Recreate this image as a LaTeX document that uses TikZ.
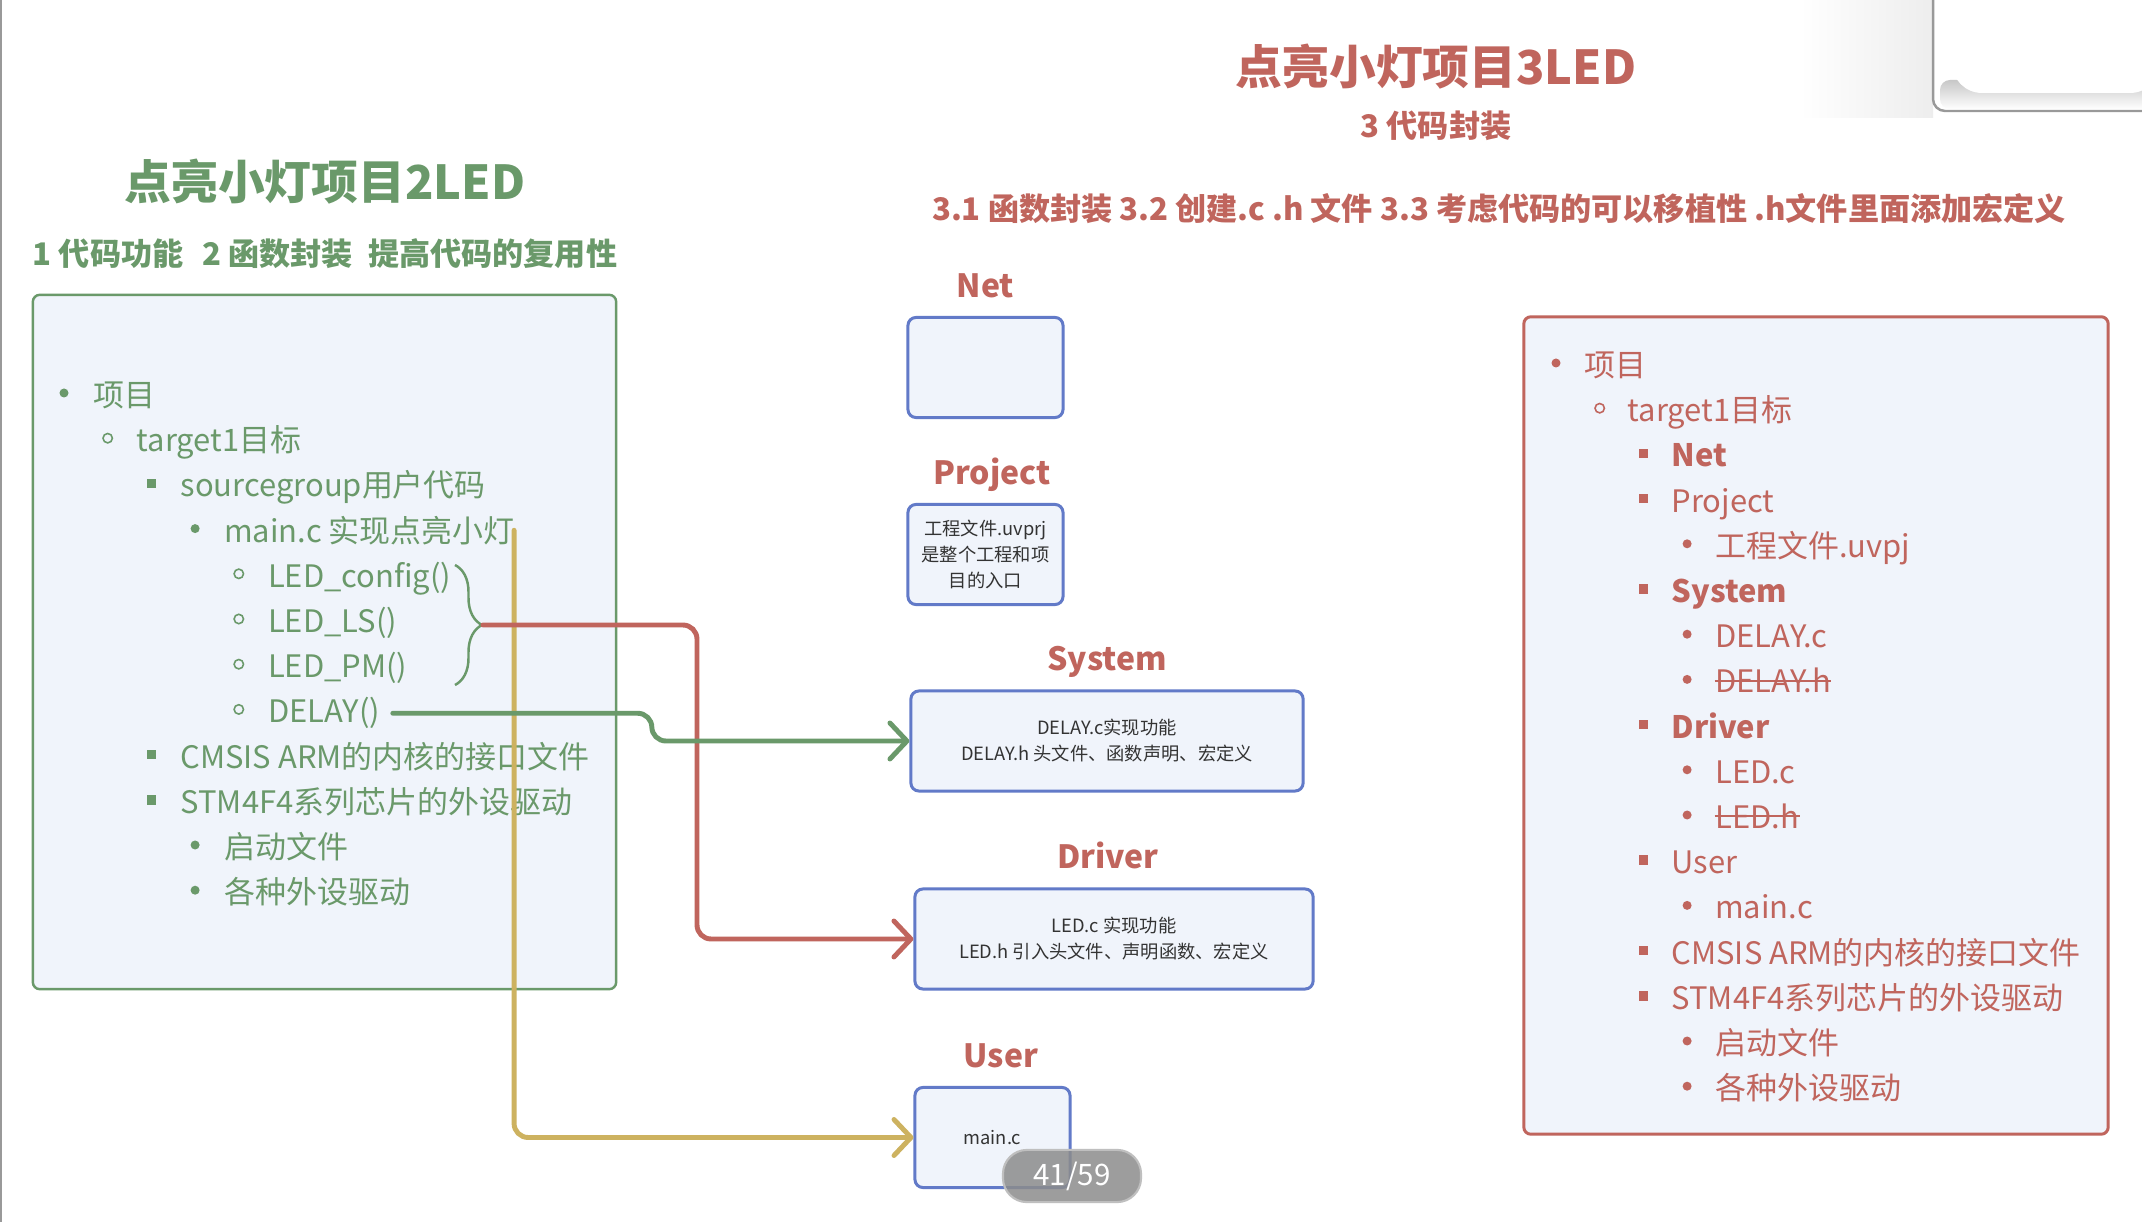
\documentclass[tikz,border=0pt]{standalone}
\usepackage{fontspec}
\setmainfont{Noto Sans CJK SC}
\usepackage{xcolor}
\usetikzlibrary{arrows.meta, positioning, calc, decorations.pathreplacing}

\definecolor{leafgreen}{RGB}{106,153,106}
\definecolor{brickred}{RGB}{192,101,93}
\definecolor{boxblue}{RGB}{98,122,200}
\definecolor{paleblue}{RGB}{240,244,251}
\definecolor{mustard}{RGB}{205,178,96}
\definecolor{inkgray}{RGB}{51,51,51}

% list bullet: level, x, y
\newcommand{\listmark}[3]{%
  \ifcase#1\or
    \fill (#2,#3) circle (0.045cm);\or
    \draw[line width=0.45pt] (#2,#3) circle (0.047cm);\or
    \fill (#2-4.8,#3-4.8) rectangle ++(9.6,9.6);\or
    \fill (#2,#3) circle (0.045cm);\or
    \draw[line width=0.45pt] (#2,#3) circle (0.047cm);\fi}

\begin{document}
\begin{tikzpicture}[x=0.01cm, y=-0.01cm]
    % Styles
    \tikzstyle{headline} = [inner sep=0, font=\fontsize{13.3pt}{16pt}\selectfont\bfseries]
    \tikzstyle{subhead} = [inner sep=0, font=\fontsize{8.85pt}{11pt}\selectfont\bfseries]
    \tikzstyle{panel} = [rectangle, draw, fill=paleblue, rounded corners=0.07cm, line width=0.7pt]
    \tikzstyle{entry} = [anchor=base west, inner sep=0, font=\fontsize{8.8pt}{10pt}\selectfont]
    \tikzstyle{modbox} = [rectangle, draw=boxblue, fill=paleblue, rounded corners=0.08cm, line width=0.85pt, minimum height=1cm, text=inkgray, align=center, font=\fontsize{5.2pt}{7.4pt}\selectfont]
    \tikzstyle{boxlabel} = [inner sep=0, text=brickred, text height=0.75em, text depth=0.2em, font=\fontsize{9.1pt}{11pt}\selectfont\bfseries]
    \tikzstyle{flow} = [line width=1.4pt, rounded corners=4pt, line cap=round, -{Straight Barb[length=0.17cm, width=0.36cm, round]}]
    \tikzstyle{pill} = [rectangle, rounded corners=0.24cm, minimum width=1.38cm, minimum height=0.49cm, fill=black!45, fill opacity=0.85, text opacity=1, draw=black!25, line width=0.6pt, text=white, font=\fontsize{8.4pt}{10pt}\selectfont]

    % Page
    \fill[white] (0,0) rectangle (2142,1222);
    \useasboundingbox (0,0) rectangle (2142,1222);
    \draw[black!40, line width=0.6pt] (1,0) -- (1,1222);

    % Corner window
    \shade[left color=white, right color=black!7] (1800,0) rectangle (1933,118);
    \draw[black!40, line width=0.7pt, fill=white, rounded corners=0.12cm] (1933,-20) rectangle (2160,111);
    \shade[top color=black!22, bottom color=white, rounded corners=0.1cm] (1940,80) rectangle (2160,109);
    \fill[white, rounded corners=0.3cm] (1952,-20) rectangle (2160,93);

    % Titles
    \node[headline, text=leafgreen] (oldtitle) at (325,182) {点亮小灯项目2LED};
    \node[subhead, text=leafgreen] (oldgoal) at (325,254) {1 代码功能\hspace{0.6em}2 函数封装\hspace{0.5em}提高代码的复用性};
    \node[headline, text=brickred] (newtitle) at (1436,67) {点亮小灯项目3LED};
    \node[subhead, text=brickred] (newgoal) at (1436,126) {3 代码封装};
    \node[subhead, text=brickred] (newsteps) at (1499,209) {3.1 函数封装 3.2 创建.c .h 文件 3.3 考虑代码的可以移植性 .h文件里面添加宏定义};

    % Panels
    \node[panel, draw=leafgreen, minimum width=5.83cm, minimum height=6.94cm] (oldtree) at (324.5,642) {};
    \node[panel, draw=brickred, line width=0.85pt, minimum width=5.84cm, minimum height=8.17cm] (newtree) at (1816,725.5) {};

    % Old project tree
    \begin{scope}[color=leafgreen]
    \foreach \lvl/\txt [count=\i] in {1/项目, 2/target1目标, 3/sourcegroup用户代码, 4/main.c 实现点亮小灯,
        5/LED\_config(), 5/LED\_LS(), 5/LED\_PM(), 5/DELAY(),
        3/CMSIS ARM的内核的接口文件, 3/STM4F4系列芯片的外设驱动, 4/启动文件, 4/各种外设驱动} {
      \pgfmathsetmacro{\rowy}{395+(\i-1)*45.2}
      \pgfmathsetmacro{\markx}{64+(\lvl-1)*43.7}
      \listmark{\lvl}{\markx}{\rowy-2}
      \node[entry] (L\i) at (\markx+28.5,\rowy+11.5) {\txt};
    }
    \draw[line width=0.7pt, decorate, decoration={brace, amplitude=0.27cm}] (455,565) -- (455,685);
    \end{scope}
    \coordinate (bracetip) at (483,625);

    % New project tree
    \begin{scope}[color=brickred]
    \foreach \lvl/\txt [count=\i] in {1/项目, 2/target1目标, 3/{\bfseries Net}, 3/Project, 4/工程文件.uvpj,
        3/{\bfseries System}, 4/DELAY.c, 4/DELAY.h, 3/{\bfseries Driver}, 4/LED.c, 4/LED.h,
        3/User, 4/main.c, 3/CMSIS ARM的内核的接口文件, 3/STM4F4系列芯片的外设驱动, 4/启动文件, 4/各种外设驱动} {
      \pgfmathsetmacro{\rowy}{365+(\i-1)*45.2}
      \pgfmathsetmacro{\markx}{1556+(\lvl-1)*43.7}
      \listmark{\lvl}{\markx}{\rowy-2}
      \node[entry] (R\i) at (\markx+27.5,\rowy+11.5) {\txt};
    }
    \draw[line width=0.6pt] (R8.west) -- (R8.east);
    \draw[line width=0.6pt] (R11.west) -- (R11.east);
    \end{scope}

    % Module boxes
    \node[modbox, minimum width=1.55cm] (net) at (985.5,367.5) {};
    \node[modbox, minimum width=1.55cm] (project) at (985.5,554.5) {工程文件.uvprj\\是整个工程和项\\目的入口};
    \node[modbox, minimum width=3.92cm] (system) at (1107,741) {DELAY.c实现功能\\DELAY.h 头文件、函数声明、宏定义};
    \node[modbox, minimum width=3.98cm] (driver) at (1114,939) {LED.c 实现功能\\LED.h 引入头文件、声明函数、宏定义};
    \node[modbox, minimum width=1.55cm] (user) at (992.5,1137.5) {main.c};

    \node[boxlabel, above=0.105cm of net] (netlbl) {Net};
    \node[boxlabel, above=0.11cm of project, xshift=0.065cm] (projectlbl) {Project};
    \node[boxlabel, above=0.11cm of system] (systemlbl) {System};
    \node[boxlabel, above=0.11cm of driver, xshift=-0.06cm] (driverlbl) {Driver};
    \node[boxlabel, above=0.105cm of user, xshift=0.085cm] (userlbl) {User};

    % Paths
    \draw[flow, mustard] ([xshift=-0.01cm]L4.east) |- (user.west);
    \draw[flow, brickred] (bracetip) -- ++(214,0) |- (driver.west);
    \draw[flow, leafgreen] ([xshift=0.12cm]L8.east) -- ++(259,0) |- (system.west);

    % Page counter
    \node[pill] (pager) at (1072,1176) {41/59};
\end{tikzpicture}
\end{document}
